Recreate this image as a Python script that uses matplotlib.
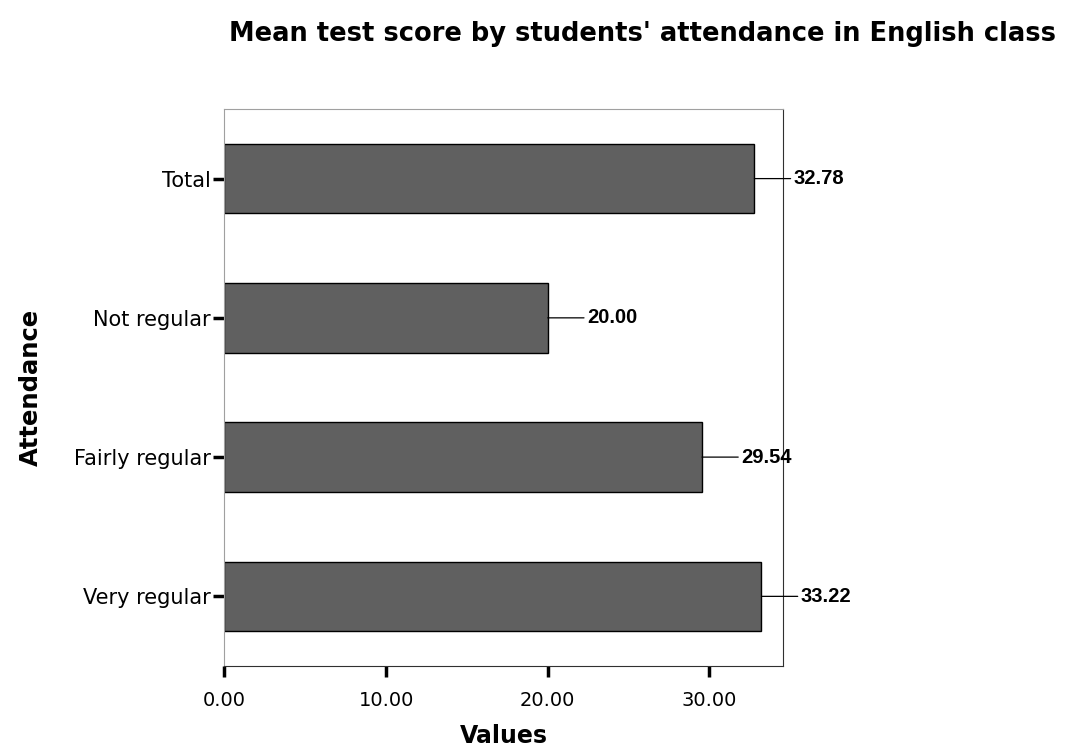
import matplotlib
matplotlib.use("Agg")
import matplotlib.pyplot as plt

categories = ["Very regular", "Fairly regular", "Not regular", "Total"]
values = [33.22, 29.54, 20.00, 32.78]
xticks = [0, 10, 20, 30]
xtick_labels = ["0.00", "10.00", "20.00", "30.00"]

fig = plt.figure(figsize=(10.84, 7.51), dpi=100)
ax = fig.add_axes([0.2071, 0.1132, 0.5155, 0.7417])

ypos = list(range(len(categories)))
ax.barh(ypos, values, height=0.5, color="#606060", edgecolor="black", linewidth=1)
ax.set_xlim(0, 34.57)
ax.set_ylim(-0.5, len(categories) - 0.5)

ax.set_yticks(ypos)
ax.set_yticklabels(categories, fontsize=15, family="DejaVu Sans")
ax.set_xticks(xticks)
ax.set_xticklabels(xtick_labels, fontsize=14, family="DejaVu Sans")
ax.tick_params(axis="y", length=8, width=2.5, pad=2, color="black")
ax.tick_params(axis="x", length=8, width=2.5, pad=10, color="black")

ax.spines["left"].set_color("#a0a0a0")
ax.spines["top"].set_color("#a0a0a0")
ax.spines["right"].set_color("#303030")
ax.spines["bottom"].set_color("#303030")

for y, v in zip(ypos, values):
    ax.annotate(f"{v:.2f}", xy=(v, y), xytext=(39, 0), textcoords="offset pixels",
                ha="left", va="center", fontsize=14.5, fontweight="bold",
                family="Liberation Sans",
                arrowprops=dict(arrowstyle="-", color="black", lw=0.9,
                                shrinkA=0, shrinkB=0, relpos=(0, 0.5)))

ax.set_xlabel("Values", fontsize=17, fontweight="bold", labelpad=10)
ax.set_ylabel("Attendance", fontsize=17.5, fontweight="bold", labelpad=22)
fig.text(0.593, 0.955, "Mean test score by students' attendance in English class",
         ha="center", va="center", fontsize=18.5, fontweight="bold")

fig.savefig("out.png", dpi=100)
